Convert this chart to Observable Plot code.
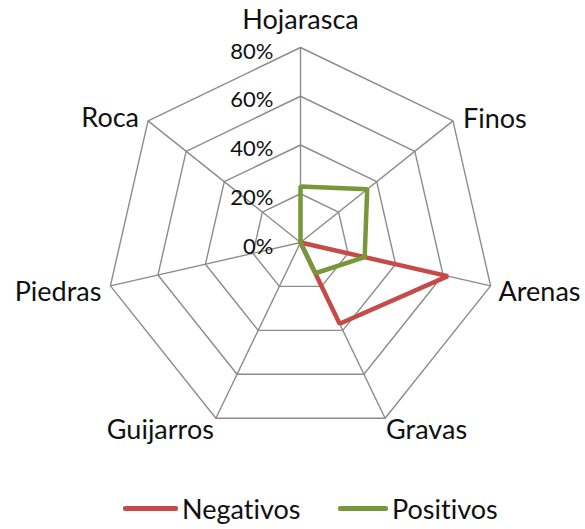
<!DOCTYPE html>
<html>
<head>
<meta charset="utf-8">
<script src="https://cdn.jsdelivr.net/npm/d3@7"></script>
<script src="https://cdn.jsdelivr.net/npm/@observablehq/plot@0.6"></script>
<style>
  body { margin: 0; background: #fff; font-family: Lato, "Open Sans", sans-serif; font-variant-ligatures: none; }
  #chart svg { display: block; }
  svg text { font-variant-ligatures: none; font-feature-settings: "liga" 0, "clig" 0; }
  #legend { position: relative; height: 59px; font-size: 27px; color: #111; font-feature-settings: "liga" 0, "clig" 0; }
  .item { display: flex; align-items: center; position: absolute; }
  .sw { display: inline-block; height: 5px; margin-right: 4px; border-radius: 2px; }
</style>
</head>
<body>
<div id="chart"></div>
<div id="legend"></div>
<script>
const categories = ["Hojarasca", "Finos", "Arenas", "Gravas", "Guijarros", "Piedras", "Roca"];
const negativos = [0, 0, 0.62, 0.37, 0, 0, 0];
const positivos = [0.23, 0.35, 0.27, 0.14, 0, 0, 0];
const tickValues = [0, 0.2, 0.4, 0.6, 0.8];
const tickLabels = ["0%", "20%", "40%", "60%", "80%"];
const seriesNames = ["Negativos", "Positivos"];
const seriesColors = ["#c64a48", "#76983a"];

const W = 585, H = 470;
const cx = 300, cy = 242, pxPerUnit = 195 / 0.8;
const maxR = 0.8;

const n = categories.length;
const ang = i => (2 * Math.PI * i) / n;
const px = (r, i) => r * Math.sin(ang(i));
const py = (r, i) => r * Math.cos(ang(i));

// grid rings
const rings = tickValues.filter(v => v > 0).flatMap(v =>
  categories.map((c, i) => ({level: v, x: px(v, i), y: py(v, i)})));
const spokes = categories.map((c, i) => ({c, x: px(maxR, i), y: py(maxR, i)}));

const series = [negativos, positivos].flatMap((vals, s) =>
  vals.map((v, i) => ({series: seriesNames[s], cat: categories[i], x: px(v, i), y: py(v, i)})));

const labelData = categories.map((c, i) => ({c, i, x: px(maxR, i), y: py(maxR, i)}));
const sub = names => labelData.filter(d => names.includes(d.c));

const txt = (names, anchor, dx, dy) => Plot.text(sub(names), {
  x: "x", y: "y", text: "c", textAnchor: anchor, dx, dy,
  fontSize: 27, fill: "#111", fontFamily: "Lato"
});

const chart = Plot.plot({
  width: W, height: H,
  margin: 0,
  x: {axis: null, domain: [-cx / pxPerUnit, (W - cx) / pxPerUnit], range: [0, W]},
  y: {axis: null, domain: [-(H - cy) / pxPerUnit, cy / pxPerUnit], range: [H, 0]},
  color: {domain: seriesNames, range: seriesColors},
  marks: [
    Plot.link(spokes, {x1: 0, y1: 0, x2: "x", y2: "y", stroke: "#8c8c8c", strokeWidth: 1.4}),
    Plot.line(rings, {x: "x", y: "y", z: "level", curve: "linear-closed", stroke: "#8c8c8c", strokeWidth: 1.4}),
    Plot.text(tickValues, {x: 0, y: d => d, text: (d, i) => tickLabels[i], textAnchor: "end", dx: -27, dy: 4,
      fontSize: 22, fill: "#111", fontFamily: "Lato"}),
    Plot.line(series, {x: "x", y: "y", z: "series", stroke: "series", curve: "linear-closed", strokeWidth: 4.5, strokeLinejoin: "miter"}),
    txt(["Hojarasca"], "middle", 0, -27),
    txt(["Finos"], "start", 10, -2),
    txt(["Arenas"], "start", 8, 6),
    txt(["Gravas"], "start", 1, 12),
    txt(["Guijarros"], "end", -2, 12),
    txt(["Piedras"], "end", -9, 6),
    txt(["Roca"], "end", -9, -3)
  ]
});
document.getElementById("chart").appendChild(chart);

const legend = document.getElementById("legend");
const lx = [123, 338];
seriesNames.forEach((name, s) => {
  const it = document.createElement("div");
  it.className = "item";
  it.style.left = lx[s] + "px";
  it.style.top = "22px";
  const sw = document.createElement("span");
  sw.className = "sw";
  sw.style.background = seriesColors[s];
  sw.style.width = (s === 0 ? 55 : 50) + "px";
  const t = document.createElement("span");
  t.textContent = name;
  it.appendChild(sw); it.appendChild(t);
  legend.appendChild(it);
});
</script>
</body>
</html>
